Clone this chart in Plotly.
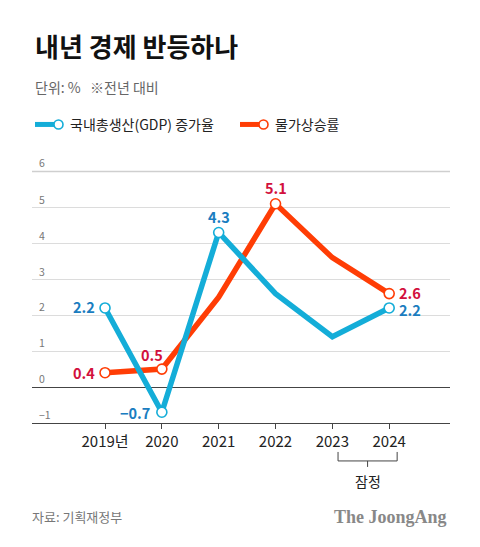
import plotly.graph_objects as go

# ---- data ----
years = [2019, 2020, 2021, 2022, 2023, 2024]
year_labels = ["2019년", "2020", "2021", "2022", "2023", "2024"]
gdp = [2.2, -0.7, 4.3, 2.6, 1.4, 2.2]
cpi = [0.4, 0.5, 2.5, 5.1, 3.6, 2.6]
gdp_marked = [True, True, True, False, False, True]
cpi_marked = [True, True, False, True, False, True]
y_ticks = [-1, 0, 1, 2, 3, 4, 5, 6]

GDP_LINE = "#14ADD8"
GDP_TEXT = "#1A7DC0"
CPI_LINE = "#FF3D05"
CPI_TEXT = "#D2103C"
FONT = "Noto Sans CJK KR"

OFF = 8  # default page body margin
Y_TOP = 6.4
UNIT = 36.0  # px per y unit
X_RANGE = [2017.715, 2025.07]
W, H = 480 - OFF, 547 - OFF
L, R, B = 32 - OFF, 450 - OFF, 423 - OFF
T = B - (Y_TOP + 1) * UNIT


def px(x):
    return (x - OFF - L) / (R - L)


def py(y):
    return (B - (y - OFF)) / (B - T)


fig = go.Figure()

# top gridline drawn as a trace (edge grid line)
top_tick = y_ticks[-1]
fig.add_trace(go.Scatter(x=X_RANGE, y=[top_tick, top_tick], mode="lines",
                         line=dict(color="#cfcfcf", width=1.5), hoverinfo="skip", cliponaxis=False))

# inflation first (beneath), then GDP
for vals, marked, col in [(cpi, cpi_marked, CPI_LINE), (gdp, gdp_marked, GDP_LINE)]:
    fig.add_trace(go.Scatter(x=years, y=vals, mode="lines",
                             line=dict(color=col, width=5.5), hoverinfo="skip"))
    fig.add_trace(go.Scatter(
        x=[x for x, m in zip(years, marked) if m],
        y=[v for v, m in zip(vals, marked) if m],
        mode="markers",
        marker=dict(size=10, color="white", line=dict(color=col, width=1.6)),
        hoverinfo="skip"))


def lab(x, y, text, color, xanchor, xshift=0, yshift=0):
    fig.add_annotation(x=x, y=y, xref="x", yref="y", text=f"<b>{text}</b>",
                       showarrow=False, xanchor=xanchor, yanchor="middle",
                       xshift=xshift, yshift=yshift,
                       font=dict(family=FONT, size=14.5, color=color))


lab(years[0], gdp[0], f"{gdp[0]}", GDP_TEXT, "right", xshift=-8, yshift=1)
lab(years[1], gdp[1], f"−{abs(gdp[1])}", GDP_TEXT, "right", xshift=-10)
lab(years[2], gdp[2], f"{gdp[2]}", GDP_TEXT, "center", yshift=16)
lab(years[5], gdp[5], f"{gdp[5]}", GDP_TEXT, "left", xshift=8, yshift=-1.5)
lab(years[0], cpi[0], f"{cpi[0]}", CPI_TEXT, "right", xshift=-8)
lab(years[1], cpi[1], f"{cpi[1]}", CPI_TEXT, "center", xshift=-10, yshift=15)
lab(years[3], cpi[3], f"{cpi[3]}", CPI_TEXT, "center", yshift=16)
lab(years[5], cpi[5], f"{cpi[5]}", CPI_TEXT, "left", xshift=8, yshift=1.5)

shapes = []
ann = []

ann.append(dict(x=0, y=top_tick, xref="paper", yref="y", showarrow=False,
                xanchor="left", yanchor="bottom", xshift=5, yshift=-1, text=str(top_tick),
                font=dict(family=FONT, size=10.5, color="#777")))

# title / subtitle
ann.append(dict(x=px(33), y=py(45), xref="paper", yref="paper", showarrow=False,
                xanchor="left", yanchor="middle", text="<b>내년 경제 반등하나</b>",
                font=dict(family=FONT, size=26, color="#111", weight=900)))
ann.append(dict(x=px(33), y=py(86), xref="paper", yref="paper", showarrow=False,
                xanchor="left", yanchor="middle", text="단위: %   ※전년 대비",
                font=dict(family=FONT, size=14, color="#666")))

# custom legend
for x0, col, text in [(33, GDP_LINE, "국내총생산(GDP) 증가율"), (238, CPI_LINE, "물가상승률")]:
    shapes.append(dict(type="line", xref="paper", yref="paper",
                       x0=px(x0 + 2), x1=px(x0 + 22), y0=py(124), y1=py(124),
                       line=dict(color=col, width=5)))
    shapes.append(dict(type="circle", xref="paper", yref="paper",
                       x0=px(x0 + 21), x1=px(x0 + 30), y0=py(119.5), y1=py(128.5),
                       fillcolor="white", line=dict(color=col, width=1.6)))
    ann.append(dict(x=px(x0 + 35), y=py(124), xref="paper", yref="paper", showarrow=False,
                    xanchor="left", yanchor="middle", text=text,
                    font=dict(family=FONT, size=14, color="#222")))

# provisional bracket under 2023-2024
bx0, bx1 = 2023.1, 2024.14
ybr = py(461)
shapes.append(dict(type="line", xref="x", yref="paper", x0=bx0, x1=bx1, y0=ybr, y1=ybr,
                   line=dict(color="#444", width=1)))
for bx in (bx0, bx1):
    shapes.append(dict(type="line", xref="x", yref="paper", x0=bx, x1=bx, y0=ybr, y1=py(452),
                       line=dict(color="#444", width=1)))
bm = (bx0 + bx1) / 2
shapes.append(dict(type="line", xref="x", yref="paper", x0=bm, x1=bm, y0=ybr, y1=py(467),
                   line=dict(color="#444", width=1)))
ann.append(dict(x=bm, y=py(481), xref="x", yref="paper", showarrow=False,
                xanchor="center", yanchor="middle", text="잠정",
                font=dict(family=FONT, size=14, color="#222")))

# footer
ann.append(dict(x=px(30), y=py(517), xref="paper", yref="paper", showarrow=False,
                xanchor="left", yanchor="middle", text="자료: 기획재정부",
                font=dict(family=FONT, size=13, color="#777")))
ann.append(dict(x=px(449), y=py(517), xref="paper", yref="paper", showarrow=False,
                xanchor="right", yanchor="middle", text="<b>The JoongAng</b>",
                font=dict(family="Liberation Serif", size=18, color="#888")))

for a in ann:
    fig.add_annotation(**a)

fig.update_layout(
    width=W, height=H, autosize=False,
    margin=dict(l=L, r=W - R, t=T, b=H - B, pad=0),
    paper_bgcolor="white", plot_bgcolor="white",
    showlegend=False, shapes=shapes,
    font=dict(family=FONT),
    xaxis=dict(type="linear", range=X_RANGE, tickvals=years, ticktext=year_labels,
               showgrid=False, zeroline=False, showline=True, linecolor="#444", linewidth=1,
               ticks="outside", ticklen=5, tickcolor="#444", tickwidth=1,
               tickfont=dict(family=FONT, size=15, color="#222"), fixedrange=True),
    yaxis=dict(range=[-1, Y_TOP], tickvals=y_ticks[:-1],
               ticktext=[str(v).replace("-", "−") for v in y_ticks[:-1]],
               showgrid=True, gridcolor="#dcdcdc", gridwidth=1,
               zeroline=True, zerolinecolor="#444", zerolinewidth=1,
               showline=False, ticks="", ticklabelposition="inside top", ticklabelstandoff=4,
               tickfont=dict(family=FONT, size=10.5, color="#777"), fixedrange=True),
)

fig.write_html("out.html")
